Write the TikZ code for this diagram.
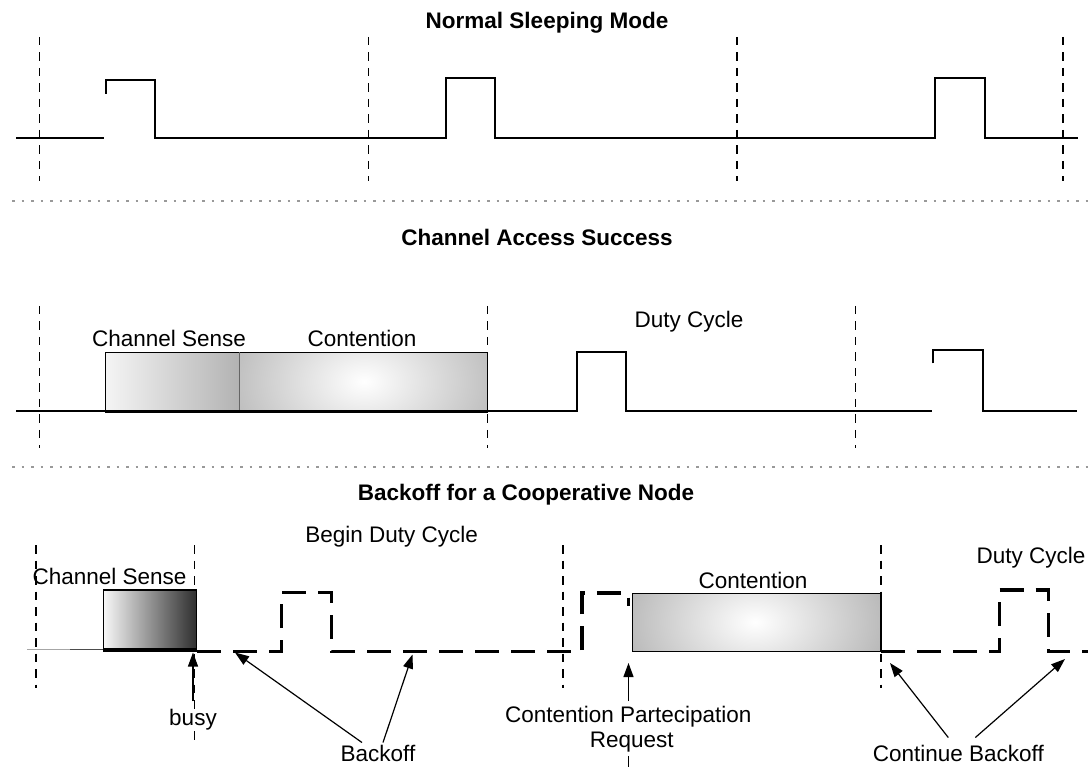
\documentclass[tikz,border=0pt]{standalone}
\usepackage{fontspec}
\setmainfont{Liberation Sans}
\usetikzlibrary{arrows.meta}
\begin{document}
\begin{tikzpicture}[x=1pt,y=-1pt,
  wave/.style={line width=2pt, line join=miter},
  guide/.style={line width=1.6pt, dash pattern=on 8.5pt off 7pt},
  sep/.style={line width=2.2pt, black!40, dash pattern=on 2.5pt off 7pt},
  bwave/.style={line width=3.4pt, dash pattern=on 24pt off 12pt, line join=miter},
  title/.style={font=\fontsize{22.5}{26}\selectfont\bfseries, inner sep=0pt},
  lbl/.style={font=\fontsize{22.5}{26}\selectfont, inner sep=0pt},
  arr/.style={line width=1.2pt, -{Triangle[length=14pt,width=10pt]}},
  boxline/.style={line width=1.4pt}]
\useasboundingbox (0,0) rectangle (1088,767);
\clip (0,0) rectangle (1088,767);

% ---------------- Normal Sleeping Mode ----------------
\node[title] (t1) at (547,23) {Normal Sleeping Mode};
\foreach \x in {39.3,368.3,737,1063} \draw[guide] (\x,37) -- (\x,181);
\draw[wave] (16,138.5) -- (104,138.5);
\draw[wave] (105.5,94) -- (105.5,80) -- (154.5,80) -- (154.5,138.5) -- (445.5,138.5)
  -- (445.5,78.5) -- (494.5,78.5) -- (494.5,138.5) -- (935,138.5)
  -- (935,78.5) -- (984.5,78.5) -- (984.5,138.5) -- (1077.5,138.5);
\draw[sep] (12,201) -- (1088,201);

% ---------------- Channel Access Success ----------------
\node[title] (t2) at (537,237) {Channel Access Success};
\foreach \x in {39.3,487.5,855.6} \draw[guide] (\x,306) -- (\x,448);
\shade[left color=black!4, right color=black!30] (105.2,352.3) rectangle (239.6,410.7);
\begin{scope}
  \clip (239.6,352.3) rectangle (487.5,410.7);
  \shade[inner color=white, outer color=black!45] (364,381.5) ellipse [x radius=235, y radius=160];
\end{scope}
\draw[boxline] (105.2,410.7) rectangle (487.5,352.3);
\draw[boxline, black!60] (239.6,352.3) -- (239.6,410.7);
\draw[line width=3.4pt] (105.2,411.5) -- (487.5,411.5);
\draw[wave] (16,410.7) -- (105.2,410.7);
\draw[wave] (487.5,410.7) -- (576.7,410.7) -- (576.7,352.3) -- (625.6,352.3) -- (625.6,410.7) -- (931.5,410.7);
\draw[wave] (933.2,363.3) -- (933.2,350) -- (982.8,350) -- (982.8,410.7) -- (1077.2,410.7);
\node[lbl] (cs1) at (169,338) {Channel Sense};
\node[lbl] (ct1) at (362,338) {Contention};
\node[lbl] (dc1) at (689,322) {Duty Cycle};
\draw[sep] (12,467) -- (1088,467);

% ---------------- Backoff for a Cooperative Node ----------------
\node[title] (t3) at (526,495) {Backoff for a Cooperative Node};
\foreach \x in {35.7,562.7,881} \draw[guide] (\x,545) -- (\x,688);
\draw[guide] (194.3,545) -- (194.3,740);
\draw[line width=1.5pt, black!35] (27,649.5) -- (70,649.5);
\draw[line width=1.5pt, black!70] (70,649.5) -- (103.3,649.5);
\shade[left color=black!3, right color=black!82] (103.3,590) rectangle (196.7,649.3);
\draw[boxline] (103.3,649.3) rectangle (196.7,590);
\draw[line width=3.4pt] (103.3,650) -- (196.7,650);
\draw[bwave] (197,651.5) -- (281.7,651.5) -- (281.7,592.7) -- (331.7,592.7) -- (331.7,651.5)
  -- (582,651.5) -- (582,593) -- (628.3,593) -- (628.3,606);
\begin{scope}
  \clip (632.3,593.3) rectangle (881,651.7);
  \shade[inner color=white, outer color=black!50] (755,622) ellipse [x radius=240, y radius=160];
\end{scope}
\draw[boxline] (632.3,651.7) rectangle (881,593.3);
\draw[bwave] (881,651.5) -- (999.3,651.5) -- (999.3,590) -- (1048.3,590) -- (1048.3,651.5) -- (1092,651.5);

\node[lbl] (cs2) at (109.5,576) {Channel Sense};
\node[lbl] (bdc) at (391.7,537) {Begin Duty Cycle};
\node[lbl] (ct2) at (753,580) {Contention};
\node[lbl] (dc2) at (1031,558) {Duty Cycle};
\node[lbl, fill=white, inner sep=1pt] (busy) at (193,720) {busy};
\node[lbl] (bko) at (378,753) {Backoff};
\node[lbl] (cpr) at (628.3,716.7) {Contention Partecipation};
\node[lbl] (req) at (631.7,741.7) {Request};
\node[lbl] (cbk) at (958.3,753) {Continue Backoff};

\coordinate (busytip) at (193,652.5);
\coordinate (bktipA) at (235,652.5);
\coordinate (bktipB) at (412.5,654.5);
\coordinate (cprtip) at (628.5,663);
\coordinate (cbtipA) at (890,663);
\coordinate (cbtipB) at (1065,659);
\coordinate (reqend) at (628.3,772);

\draw[arr, shorten <=7pt] (busy.north) -- (busytip);
\draw[arr] ([xshift=-16pt, yshift=2pt]bko.north) -- (bktipA);
\draw[arr] ([xshift=5pt, yshift=2pt]bko.north) -- (bktipB);
\draw[arr, shorten <=5pt] (cpr.north -| cprtip) -- (cprtip);
\draw[line width=1.2pt, shorten <=4pt] (req.south -| reqend) -- (reqend);
\draw[arr] ([xshift=-10pt, yshift=7pt]cbk.north) -- (cbtipA);
\draw[arr] ([xshift=17pt, yshift=7pt]cbk.north) -- (cbtipB);
\end{tikzpicture}
\end{document}
